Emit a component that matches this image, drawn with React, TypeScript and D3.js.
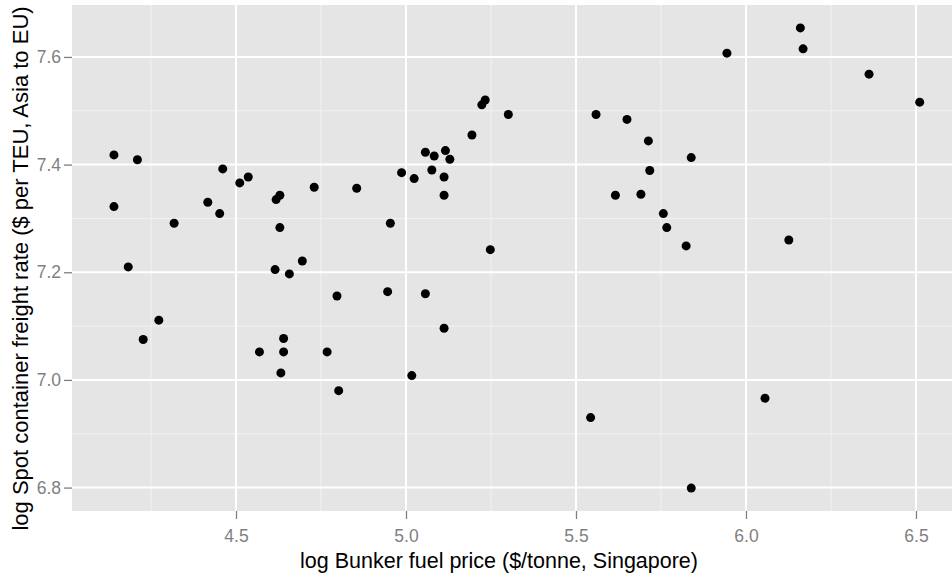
import React, { useEffect, useRef } from 'react';
import * as d3 from 'd3';

// log Bunker fuel price ($/tonne, Singapore)
const fuelPrice = [
  4.141, 4.210, 4.141, 4.183, 4.318, 4.417, 4.461, 4.452, 4.511, 4.536,
  4.618, 4.629, 4.629, 4.615, 4.657, 4.695, 4.730, 4.273, 4.227, 4.569,
  4.640, 4.640, 4.632, 4.855, 4.954, 4.946, 5.057, 4.987, 5.024, 5.076,
  5.112, 5.112, 5.057, 5.083, 5.116, 5.129, 5.194, 5.223, 5.233, 5.301,
  5.248, 5.559, 5.650, 5.616, 4.797, 5.112, 4.768, 5.017, 4.802, 5.543,
  6.160, 5.944, 6.168, 6.362, 6.511, 5.713, 5.839, 5.717, 5.691, 5.757,
  5.767, 5.824, 6.126, 6.056, 5.839,
];

// log Spot container freight rate ($ per TEU, Asia to EU)
const freightRate = [
  7.418, 7.409, 7.322, 7.210, 7.291, 7.330, 7.392, 7.309, 7.366, 7.377,
  7.335, 7.343, 7.283, 7.205, 7.197, 7.221, 7.358, 7.111, 7.075, 7.052,
  7.077, 7.052, 7.013, 7.356, 7.291, 7.164, 7.160, 7.385, 7.374, 7.390,
  7.377, 7.343, 7.423, 7.416, 7.426, 7.410, 7.455, 7.511, 7.520, 7.493,
  7.242, 7.493, 7.484, 7.343, 7.156, 7.096, 7.052, 7.008, 6.980, 6.930,
  7.654, 7.607, 7.615, 7.568, 7.516, 7.444, 7.413, 7.389, 7.345, 7.309,
  7.283, 7.249, 7.260, 6.966, 6.799,
];

const xTicks = [4.5, 5.0, 5.5, 6.0, 6.5];
const xMinor = [4.25, 4.75, 5.25, 5.75, 6.25];
const yTicks = [6.8, 7.0, 7.2, 7.4, 7.6];
const yMinor = [6.9, 7.1, 7.3, 7.5];

const xTitle = 'log Bunker fuel price ($/tonne, Singapore)';
const yTitle = 'log Spot container freight rate ($ per TEU, Asia to EU)';

const W = 952;
const H = 579;
const FONT = '"Liberation Sans", Arial, Helvetica, sans-serif';

export default function App() {
  const ref = useRef<SVGSVGElement>(null);

  useEffect(() => {
    const svg = d3.select(ref.current);
    svg.selectAll('*').remove();

    // panel edges
    const left = 72, right = 952, top = 5, bottom = 511;

    const x = d3.scaleLinear().domain([4.0176, 6.606]).range([left, right]);
    const y = d3.scaleLinear().domain([6.7565, 7.6965]).range([bottom, top]);

    svg.append('rect')
      .attr('width', W).attr('height', H).attr('fill', '#ffffff');

    // panel background
    svg.append('rect')
      .attr('x', left).attr('y', top)
      .attr('width', right - left).attr('height', bottom - top)
      .attr('fill', '#E5E5E5');

    // minor grid
    const grid = svg.append('g');
    grid.selectAll('line.xn').data(xMinor).join('line')
      .attr('class', 'xn')
      .attr('x1', d => x(d)).attr('x2', d => x(d))
      .attr('y1', top).attr('y2', bottom)
      .attr('stroke', '#F2F2F2').attr('stroke-width', 1);
    grid.selectAll('line.yn').data(yMinor).join('line')
      .attr('class', 'yn')
      .attr('y1', d => y(d)).attr('y2', d => y(d))
      .attr('x1', left).attr('x2', right)
      .attr('stroke', '#F2F2F2').attr('stroke-width', 1);

    // major grid
    const major = svg.append('g');
    major.selectAll('line.xm').data(xTicks).join('line')
      .attr('class', 'xm')
      .attr('x1', d => x(d)).attr('x2', d => x(d))
      .attr('y1', top).attr('y2', bottom)
      .attr('stroke', '#ffffff').attr('stroke-width', 2);
    major.selectAll('line.ym').data(yTicks).join('line')
      .attr('class', 'ym')
      .attr('y1', d => y(d)).attr('y2', d => y(d))
      .attr('x1', left).attr('x2', right)
      .attr('stroke', '#ffffff').attr('stroke-width', 2);

    // x axis
    const xAxis = svg.append('g')
      .attr('transform', `translate(0,${bottom})`)
      .call(d3.axisBottom(x).tickValues(xTicks).tickFormat(d3.format('.1f'))
        .tickSize(8).tickPadding(11));
    xAxis.select('.domain').remove();
    xAxis.selectAll('line').attr('stroke', '#7F7F7F').attr('stroke-width', 1.3);
    xAxis.selectAll('text')
      .attr('fill', '#7F7F7F')
      .style('font-family', FONT).style('font-size', '17.5px');

    // y axis
    const yAxis = svg.append('g')
      .attr('transform', `translate(${left},0)`)
      .call(d3.axisLeft(y).tickValues(yTicks).tickFormat(d3.format('.1f'))
        .tickSize(8).tickPadding(3));
    yAxis.select('.domain').remove();
    yAxis.selectAll('line').attr('stroke', '#7F7F7F').attr('stroke-width', 1.3);
    yAxis.selectAll('text')
      .attr('fill', '#7F7F7F')
      .style('font-family', FONT).style('font-size', '17.5px');

    // points
    svg.append('g')
      .selectAll('circle')
      .data(fuelPrice.map((v, i) => [v, freightRate[i]]))
      .join('circle')
      .attr('cx', d => x(d[0]))
      .attr('cy', d => y(d[1]))
      .attr('r', 4.5)
      .attr('fill', '#000000');

    // axis titles
    svg.append('text')
      .attr('x', 499).attr('y', 568)
      .attr('text-anchor', 'middle')
      .style('font-family', FONT).style('font-size', '21.5px')
      .attr('fill', '#000000')
      .text(xTitle);

    svg.append('text')
      .attr('transform', `translate(27.5,268.5) rotate(-90)`)
      .attr('text-anchor', 'middle')
      .style('font-family', FONT).style('font-size', '22px')
      .attr('fill', '#000000')
      .text(yTitle);
  }, []);

  return (
    <svg ref={ref} width={W} height={H}
      style={{ position: 'absolute', left: 0, top: 0, display: 'block' }} />
  );
}
